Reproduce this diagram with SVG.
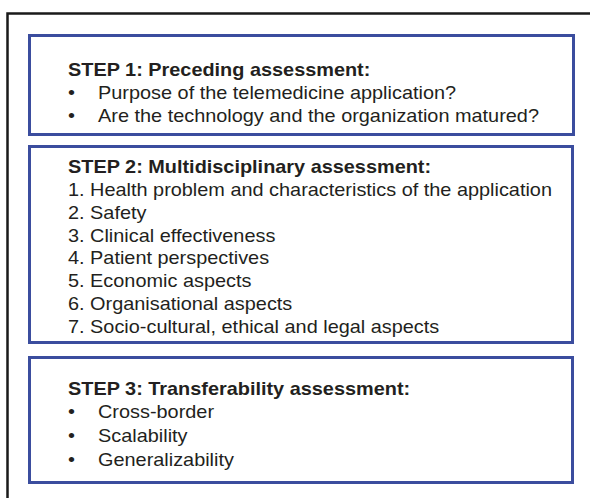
<svg xmlns="http://www.w3.org/2000/svg" width="590" height="498" viewBox="0 0 590 498">
  <style>
    .frame { fill: none; stroke: #1a1a1a; stroke-width: 2.5; }
    .box { fill: #ffffff; stroke: #3b4d9e; stroke-width: 3; }
    text { font-family: "Liberation Sans", Arial, sans-serif; font-size: 17.5px; fill: #231f20; }
    .head { font-weight: bold; }
  </style>
  <rect width="590" height="498" fill="#ffffff"/>
  <!-- outer frame, open at right and bottom edges -->
  <path class="frame" d="M7.5,498 V13.5 H590"/>

  <g id="step1">
    <rect class="box" x="29.5" y="35.5" width="544" height="99"/>
    <!-- text set in a horizontally widened face -->
    <g transform="matrix(1.137 0 0 1 68 0)">
      <text class="head" x="0" y="76">STEP 1: Preceding assessment:</text>
      <text x="0" y="99">•</text><text x="26.4" y="99">Purpose of the telemedicine application?</text>
      <text x="0" y="122">•</text><text x="26.4" y="122">Are the technology and the organization matured?</text>
    </g>
  </g>

  <g id="step2">
    <rect class="box" x="29.5" y="146.5" width="543" height="196"/>
    <g transform="matrix(1.137 0 0 1 68 0)">
      <text class="head" x="0" y="173">STEP 2: Multidisciplinary assessment:</text>
      <text x="0" y="196">1. Health problem and characteristics of the application</text>
      <text x="0" y="219">2. Safety</text>
      <text x="0" y="242">3. Clinical effectiveness</text>
      <text x="0" y="264">4. Patient perspectives</text>
      <text x="0" y="287">5. Economic aspects</text>
      <text x="0" y="310">6. Organisational aspects</text>
      <text x="0" y="333">7. Socio-cultural, ethical and legal aspects</text>
    </g>
  </g>

  <g id="step3">
    <rect class="box" x="29.5" y="357.5" width="543" height="125"/>
    <g transform="matrix(1.137 0 0 1 68 0)">
      <text class="head" x="0" y="395">STEP 3: Transferability assessment:</text>
      <text x="0" y="418">•</text><text x="26.4" y="418">Cross-border</text>
      <text x="0" y="442">•</text><text x="26.4" y="442">Scalability</text>
      <text x="0" y="466">•</text><text x="26.4" y="466">Generalizability</text>
    </g>
  </g>

  <g id="connectors"></g>
</svg>
